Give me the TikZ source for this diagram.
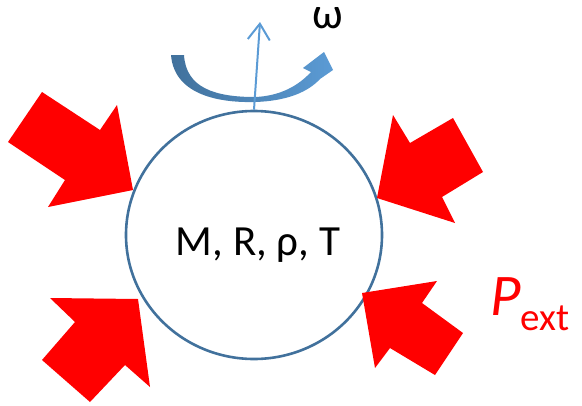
\documentclass[tikz,border=0pt]{standalone}
\usepackage{fontspec}
\setmainfont{Carlito}
\usetikzlibrary{arrows.meta, shapes.geometric}
\definecolor{shellblue}{HTML}{41719C}
\definecolor{axisblue}{HTML}{5B9BD5}

\begin{document}
\begin{tikzpicture}[
		x=1pt, y=-1pt,
		% Style for the body
		shell/.style={
			ellipse, draw=shellblue, line width=2.6pt,
			minimum width=256pt, minimum height=248pt, inner sep=0pt
		},
		% Style for the external pressure arrows
		pressure/.style={fill=red, draw=none},
		% Style for the rotation axis
		axisline/.style={
			draw=axisblue, line width=2pt,
			-{Straight Barb[length=16pt, width=22pt, line width=2pt]}
		},
		labeltext/.style={inner sep=0pt, font=\fontsize{43}{43}\selectfont}
		]
		\useasboundingbox (0,0) rectangle (582,405);
		
		% --- 1. BODY ---
		\node[shell] (star) at (254,235) {};
		\node[labeltext, anchor=base] (params) at (258,255) {M, R, ρ, T};
		
		% --- 2. ROTATION ---
		\coordinate (spin) at (260,22);
		\shade[left color=shellblue, right color=axisblue]
			(171,55) .. controls (174,93) and (215,103) .. (255,102)
			.. controls (287,101) and (308,92) .. (320,79)
			-- (333,70) -- (324,52) -- (303,68) -- (311,72)
			.. controls (298,86) and (280,96) .. (255,97)
			.. controls (215,97) and (186,88) .. (184,55) -- cycle;
		\draw[axisline] (star.north) -- (spin);
		\node[inner sep=0pt, anchor=base, text height=16pt, text depth=0pt,
			font=\fontsize{44}{44}\selectfont] (omega) at (328,28) {ω};
		
		% --- 3. EXTERNAL PRESSURE ---
		% upper left
		\fill[pressure] (42,92) -- (100,130) -- (117,105) -- (133,190)
			-- (48,207) -- (65,180) -- (8,142) -- cycle;
		% upper right
		\fill[pressure] (377,198) -- (393,115) -- (410,143) -- (453,118)
			-- (483,172) -- (442,197) -- (455,223) -- cycle;
		% lower left
		\fill[pressure] (138,299) -- (150,387) -- (125,365) -- (90,402)
			-- (42,360) -- (75,322) -- (50,298) -- cycle;
		% lower right
		\fill[pressure] (362,293) -- (437,281) -- (422,303) -- (463,333)
			-- (435,375) -- (390,348) -- (375,368) -- cycle;
		\node[inner sep=0pt, anchor=base west, text=red] (pext) at (490,315)
			{\fontsize{59}{59}\selectfont\itshape P\upshape\fontsize{39}{39}\selectfont\raisebox{-15pt}{ext}};
		
	\end{tikzpicture}
\end{document}
